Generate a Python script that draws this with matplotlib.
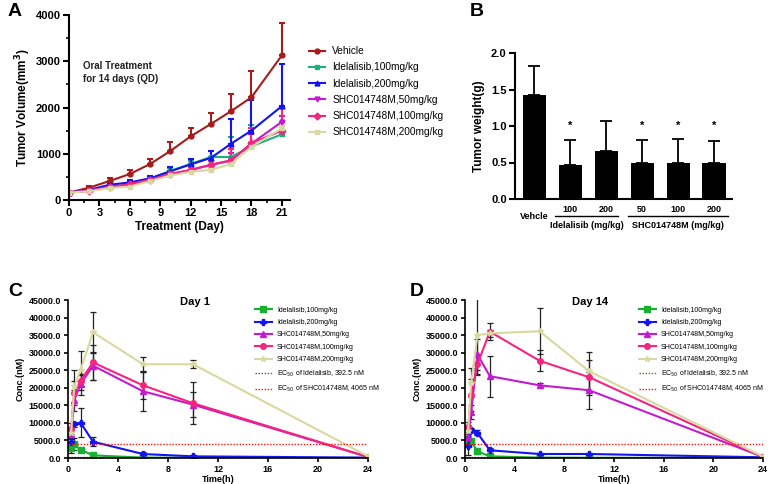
import numpy as np
import matplotlib
matplotlib.use('Agg')
import matplotlib.pyplot as plt
from matplotlib.lines import Line2D

plt.rcParams['font.family'] = ['Liberation Sans', 'DejaVu Sans']
plt.rcParams['axes.linewidth'] = 1.5

# ── Panel A: tumour volume ─────────────────────────────────────────────────────
days = [0, 2, 4, 6, 8, 10, 12, 14, 16, 18, 21]
a_labels = ['Vehicle', 'Idelalisib,100mg/kg', 'Idelalisib,200mg/kg',
            'SHC014748M,50mg/kg', 'SHC014748M,100mg/kg', 'SHC014748M,200mg/kg']
vol_vehicle = [160, 267, 411, 562, 778, 1060, 1377, 1643, 1924, 2220, 3128]
vol_idel100 = [160, 210, 290, 340, 450, 630, 780, 930, 930, 1160, 1420]
vol_idel200 = [160, 220, 330, 380, 470, 620, 770, 910, 1220, 1500, 2030]
vol_shc50 = [160, 200, 290, 330, 440, 560, 650, 760, 860, 1220, 1690]
vol_shc100 = [160, 200, 280, 340, 440, 560, 650, 760, 850, 1230, 1500]
vol_shc200 = [160, 190, 260, 290, 410, 530, 610, 650, 780, 1150, 1550]
err_vehicle = [0, 30, 70, 80, 110, 190, 190, 230, 370, 570, 690]
err_idel100 = [0, 20, 30, 40, 40, 60, 70, 130, 440, 470, 60]
err_idel200 = [0, 20, 40, 50, 50, 100, 120, 150, 530, 660, 900]
err_shc50 = [0, 20, 30, 30, 40, 50, 60, 80, 150, 200, 130]
err_shc100 = [0, 20, 30, 30, 40, 50, 60, 90, 250, 330, 490]
err_shc200 = [0, 20, 20, 20, 30, 40, 40, 40, 50, 100, 60]

# ── Panel B: tumour weight ─────────────────────────────────────────────────────
b_groups = ['Vehcle', '100', '200', '50', '100', '200']
weight = [1.42, 0.46, 0.66, 0.50, 0.50, 0.50]
weight_err = [0.40, 0.35, 0.41, 0.31, 0.32, 0.29]
weight_sig = [False, True, False, True, True, True]

# ── Panels C/D: PK ─────────────────────────────────────────────────────────────
pk_time = [0.25, 0.5, 1, 2, 6, 10, 24]
pk_labels = ['Idelalisib,100mg/kg', 'Idelalisib,200mg/kg', 'SHC014748M,50mg/kg',
             'SHC014748M,100mg/kg', 'SHC014748M,200mg/kg']
d1_idel100 = [2840, 3880, 2370, 760, 100, 50, 0]
d1_idel200 = [4540, 9650, 10100, 4640, 1130, 470, 100]
d1_shc50 = [6800, 16500, 21000, 26300, 19000, 15200, 300]
d1_shc100 = [8400, 18500, 22000, 27200, 20700, 15600, 300]
d1_shc200 = [7200, 20500, 25000, 35800, 26700, 26700, 500]
d1_sd_idel100 = [1300, 1700, 300, 300, 50, 50, 0]
d1_sd_idel200 = [1000, 700, 4100, 1300, 700, 200, 0]
d1_sd_shc50 = [2000, 3000, 3000, 4000, 5600, 3500, 200]
d1_sd_shc100 = [1500, 3500, 1500, 5000, 4000, 6000, 200]
d1_sd_shc200 = [1500, 4700, 5500, 5800, 2100, 1100, 300]

d14_idel100 = [3900, 4760, 1900, 480, 100, 50, 0]
d14_idel200 = [3520, 7900, 7140, 2190, 1140, 1140, 200]
d14_shc50 = [5900, 13100, 29500, 23300, 20700, 19300, 300]
d14_shc100 = [8800, 18000, 26700, 36000, 27700, 23000, 300]
d14_shc200 = [7800, 21500, 35000, 35500, 36100, 24700, 400]
d14_sd_idel100 = [500, 400, 300, 100, 50, 50, 0]
d14_sd_idel200 = [2600, 600, 700, 800, 300, 300, 100]
d14_sd_shc50 = [1000, 2000, 4500, 5800, 600, 5300, 200]
d14_sd_shc100 = [1500, 4500, 3000, 2500, 3000, 5000, 200]
d14_sd_shc200 = [1500, 4200, 11000, 1000, 6500, 5500, 300]

ec50_idel = 392.5
ec50_shc = 4065

a_colors = ['#A51C1C', '#1DB07A', '#1414F0', '#C21BD0', '#F4257F', '#D8D8A0']
a_markers = ['o', 's', '^', 'v', 'D', 's']
pk_colors = ['#17B02F', '#1414F0', '#C21BD0', '#F4257F', '#D8D8A0']
pk_markers = ['s', 'P', '^', 'o', '*']

W, H = 770, 484
fig = plt.figure(figsize=(7.7, 4.84), dpi=100)


def box(l, t, r, b):
    return [l / W, 1 - b / H, (r - l) / W, (b - t) / H]


# ── A ─────────────────────────────────────────────────────────────────────────
axA = fig.add_axes(box(69, 15, 290, 200))
vols = [vol_vehicle, vol_idel100, vol_idel200, vol_shc50, vol_shc100, vol_shc200]
errs = [err_vehicle, err_idel100, err_idel200, err_shc50, err_shc100, err_shc200]
a_handles = []
for v, e, c, m, lab in zip(vols, errs, a_colors, a_markers, a_labels):
    axA.errorbar(days, v, yerr=[np.zeros(len(e)), e], color=c, marker=m,
                 markersize=3.5, lw=1.5, capsize=2.5, elinewidth=1.5,
                 capthick=1.5)
    a_handles.append(Line2D([], [], color=c, marker=m, markersize=3.5, lw=1.5, label=lab))
axA.set_xlim(0, 21.8)
axA.set_ylim(0, 4000)
axA.set_xticks(range(0, 22, 3))
axA.set_yticks(range(0, 4001, 1000))
axA.yaxis.set_minor_locator(plt.MultipleLocator(500))
axA.xaxis.set_minor_locator(plt.MultipleLocator(1.5))
axA.set_xlabel('Treatment (Day)', fontsize=8.5, fontweight='bold', labelpad=2)
axA.set_ylabel('Tumor Volume(mm$^\\mathbf{3}$)', fontsize=8.5, fontweight='bold', labelpad=2)
axA.text(1.4, 3000, 'Oral Treatment\nfor 14 days (QD)', fontsize=7,
         fontweight='bold', va='top', color='#222222', linespacing=1.4)
fig.legend(handles=a_handles, loc='upper left',
           bbox_to_anchor=(305 / W, 1 - 42 / H), frameon=False, fontsize=7.3,
           handlelength=1.6, labelspacing=0.62, borderaxespad=0, handletextpad=0.7)

# ── B ─────────────────────────────────────────────────────────────────────────
axB = fig.add_axes(box(515, 53, 732, 199))
xb = np.arange(len(weight))
axB.bar(xb, weight, width=0.64, color='black')
axB.errorbar(xb, weight, yerr=[np.zeros(len(weight)), weight_err], fmt='none',
             ecolor='black', elinewidth=1.3, capsize=4, capthick=1.3)
for x, s in zip(xb, weight_sig):
    if s:
        axB.text(x, 0.93, '*', ha='center', va='bottom', fontsize=8, fontweight='bold')
axB.set_xlim(-0.53, 5.5)
axB.set_ylim(0, 2.0)
axB.set_yticks([0, 0.5, 1.0, 1.5, 2.0])
axB.set_yticklabels(['0.0', '0.5', '1.0', '1.5', '2.0'])
axB.set_xticks([])
axB.set_ylabel('Tumor weight(g)', fontsize=8.5, fontweight='bold', labelpad=4)
for x, lab in zip(xb, b_groups):
    axB.text(x, -0.18 if x == 0 else -0.08, lab, ha='center', va='top',
             fontsize=6.5, fontweight='bold', clip_on=False)
for x0, x1, lab in [(0.58, 2.33, 'Idelalisib (mg/kg)'), (2.61, 5.39, 'SHC014748M (mg/kg)')]:
    axB.plot([x0, x1], [-0.235, -0.235], color='black', lw=1, clip_on=False)
    axB.text((x0 + x1) / 2, -0.30, lab, ha='center', va='top', fontsize=6.5,
             fontweight='bold', clip_on=False)

# ── C / D ─────────────────────────────────────────────────────────────────────
day_sets = [
    ('Day 1', box(68, 300, 368, 458),
     [d1_idel100, d1_idel200, d1_shc50, d1_shc100, d1_shc200],
     [d1_sd_idel100, d1_sd_idel200, d1_sd_shc50, d1_sd_shc100, d1_sd_shc200],
     '#336680', (252, 304), 195),
    ('Day 14', box(465, 300, 763, 458),
     [d14_idel100, d14_idel200, d14_shc50, d14_shc100, d14_shc200],
     [d14_sd_idel100, d14_sd_idel200, d14_sd_shc50, d14_sd_shc100, d14_sd_shc200],
     '#4E7A2E', (636, 304), 590),
]
for title, pos, series, sds, ec_col, lpos, tx in day_sets:
    ax = fig.add_axes(pos)
    handles = []
    for y, sd, c, m, lab in zip(series, sds, pk_colors, pk_markers, pk_labels):
        ax.errorbar(pk_time, y, yerr=sd, fmt='none', ecolor='#222222',
                    elinewidth=0.9, capsize=2.5, capthick=0.9, zorder=1)
        ln, = ax.plot(pk_time, y, color=c, marker=m, markersize=4, lw=1.5,
                      label=lab, zorder=2)
        handles.append(ln)
    h1 = ax.axhline(ec50_idel, color=ec_col, ls=(0, (1, 1.2)), lw=1,
                    label='EC$_{50}$ of Idelalisib, 392.5 nM')
    h2 = ax.axhline(ec50_shc, color='#FF1010', ls=(0, (1, 1.2)), lw=1,
                    label='EC$_{50}$ of SHC014748M, 4065 nM')
    handles += [h1, h2]
    ax.set_xlim(0, 24)
    ax.set_ylim(0, 45000)
    ax.set_xticks(range(0, 25, 4))
    ax.set_yticks(range(0, 45001, 5000))
    ax.set_yticklabels([f'{v:.1f}' for v in range(0, 45001, 5000)])
    ax.tick_params(labelsize=6.5, width=1.2, length=3, pad=2)
    for t in ax.get_xticklabels() + ax.get_yticklabels():
        t.set_fontweight('bold')
    ax.set_xlabel('Time(h)', fontsize=6.5, fontweight='bold', labelpad=1)
    ax.set_ylabel('Conc.(nM)', fontsize=6.5, fontweight='bold', labelpad=3)
    fig.text(tx / W, 1 - 302 / H, title, fontsize=8, fontweight='bold',
             ha='center', va='center')
    ax.spines['top'].set_visible(False)
    ax.spines['right'].set_visible(False)
    ax.spines['left'].set_linewidth(1.2)
    ax.spines['bottom'].set_linewidth(1.2)
    fig.legend(handles=handles, loc='upper left', bbox_to_anchor=(lpos[0] / W, 1 - lpos[1] / H),
               frameon=False, fontsize=5.0, handlelength=2.5, labelspacing=0.77,
               borderaxespad=0, handletextpad=0.7)

for ax in (axA, axB):
    ax.spines['top'].set_visible(False)
    ax.spines['right'].set_visible(False)
    ax.tick_params(labelsize=8, width=1.5, length=4, pad=2)
    ax.tick_params(which='minor', width=1.2, length=2.5)
    for t in ax.get_xticklabels() + ax.get_yticklabels():
        t.set_fontweight('bold')

for lab, x, y in [('A', 8, 11), ('B', 470, 11), ('C', 8, 292), ('D', 410, 292)]:
    fig.text(x / W, 1 - y / H, lab, fontsize=14, fontweight='bold', va='center')

fig.savefig('out.png', dpi=100)
